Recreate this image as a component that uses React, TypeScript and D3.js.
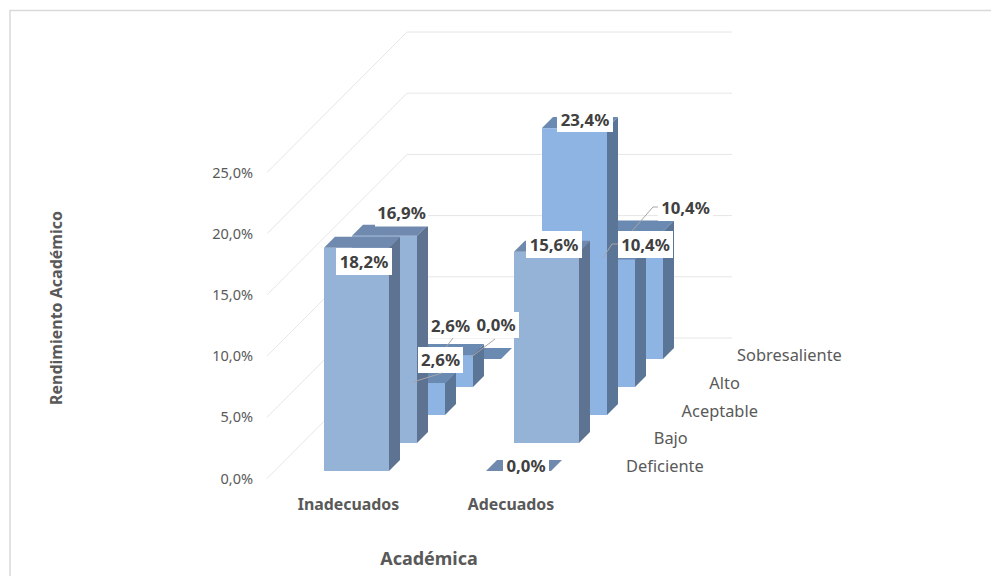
import React from "react";
import * as d3 from "d3";

const groups = ["Inadecuados", "Adecuados"];
const seriesNames = ["Deficiente", "Bajo", "Aceptable", "Alto", "Sobresaliente"];
const inadecuados = [18.2, 16.9, 2.6, 2.6, 0.0];
const adecuados = [0.0, 15.6, 23.4, 10.4, 10.4];
const valueTicks = [0, 5, 10, 15, 20, 25];

const frontFill = ["#95B3D7", "#95B3D7", "#8DB4E2", "#8DB4E2", "#8DB4E2"];
const topFill = ["#7089AE", "#7089AE", "#6A8AB2", "#6A8AB2", "#6A8AB2"];
const sideFill = ["#5E7391", "#5E7391", "#5A7596", "#5A7596", "#5A7596"];

const fmt = (v: number) => v.toFixed(1).replace(".", ",") + "%";
const sans = "'Noto Sans', 'Open Sans', sans-serif";

// oblique projection: each series steps back up and to the right
const barH = d3.scaleLinear().domain([0, 25]).range([0, 306.5]);
const tickY = d3.scaleLinear().domain([0, 25]).range([478.5, 172.5]);
const groupX = d3.scaleOrdinal<string, number>().domain(groups).range([324, 486]);
const stepBack = d3.scaleLinear().domain([0, 4]).range([0, 112]);
const baseY = 471;
const barW = 65;
const depth = 11;
const wallRise = 140.5;

type Bar = { g: number; s: number; v: number };
const bars: Bar[] = [];
for (let s = seriesNames.length - 1; s >= 0; s--) {
  bars.push({ g: 0, s, v: inadecuados[s] });
  bars.push({ g: 1, s, v: adecuados[s] });
}

type Label = {
  group: string;
  series: string;
  value: number;
  box: [number, number, number, number];
  leader?: [number, number][];
};
const labels: Label[] = [
  { group: "Inadecuados", series: "Bajo", value: inadecuados[1], box: [375, 200, 53, 26.5] },
  { group: "Inadecuados", series: "Sobresaliente", value: inadecuados[4], box: [473, 312, 46, 26], leader: [[495, 339], [470, 358]] },
  { group: "Inadecuados", series: "Alto", value: inadecuados[3], box: [428, 313, 45, 25], leader: [[453, 338], [440, 355]] },
  { group: "Inadecuados", series: "Aceptable", value: inadecuados[2], box: [418, 347, 45, 26], leader: [[442, 373], [413, 382]] },
  { group: "Inadecuados", series: "Deficiente", value: inadecuados[0], box: [336, 248, 56, 27] },
  { group: "Adecuados", series: "Aceptable", value: adecuados[2], box: [557, 107, 56, 25] },
  { group: "Adecuados", series: "Sobresaliente", value: adecuados[4], box: [658, 195, 55, 26], leader: [[632, 231], [653, 207], [658, 207]] },
  { group: "Adecuados", series: "Alto", value: adecuados[3], box: [618, 231, 55, 27], leader: [[603, 258], [612, 244], [618, 244]] },
  { group: "Adecuados", series: "Bajo", value: adecuados[1], box: [526, 231, 56, 27] },
  { group: "Adecuados", series: "Deficiente", value: adecuados[0], box: [503, 453, 46, 26] },
];

export default function App() {
  const line = d3.line();
  const poly = (pts: [number, number][]) => pts.map((p) => p.join(",")).join(" ");
  return (
    <svg width={991} height={576} style={{ position: "absolute", left: 0, top: 0, background: "#fff" }} fontFamily={sans}>
      <path d="M10 576V10.5H991" fill="none" stroke="#D9D9D9" strokeWidth={1.5} />

      {valueTicks.map((t) => (
        <g key={t}>
          <path
            d={line([[267, tickY(t)], [407, tickY(t) - wallRise], [732, tickY(t) - wallRise]]) ?? ""}
            fill="none"
            stroke="#E6E6E6"
            strokeWidth={1}
          />
          <text x={253} y={tickY(t) + 5} textAnchor="end" fontSize={14.5} fill="#595959">
            {fmt(t)}
          </text>
        </g>
      ))}

      {bars.map(({ g, s, v }) => {
        const x0 = groupX(groups[g]) + stepBack(s);
        const x1 = x0 + barW;
        const y0 = baseY - stepBack(s);
        const y1 = y0 - barH(v);
        return (
          <g key={`${g}-${s}`}>
            {v > 0 && <rect x={x0} y={y1} width={barW} height={y0 - y1} fill={frontFill[s]} />}
            {v > 0 && <polygon points={poly([[x1, y0], [x1 + depth, y0 - depth], [x1 + depth, y1 - depth], [x1, y1]])} fill={sideFill[s]} />}
            <polygon points={poly([[x0, y1], [x0 + depth, y1 - depth], [x1 + depth, y1 - depth], [x1, y1]])} fill={topFill[s]} />
          </g>
        );
      })}

      {labels.map((l) => {
        const [x, y, w, h] = l.box;
        return (
          <g key={l.group + l.series}>
            <rect x={x} y={y} width={w} height={h} fill="#fff" />
            {l.leader && <path d={line(l.leader) ?? ""} fill="none" stroke="#A6A6A6" strokeWidth={1} />}
            <text x={x + w / 2} y={y + h / 2 + 6} textAnchor="middle" fontSize={16.8} fontWeight={700} fill="#404040">
              {fmt(l.value)}
            </text>
          </g>
        );
      })}

      {seriesNames.map((name, i) => (
        <text key={name} x={626 + stepBack(i) * 0.992} y={472 - stepBack(i) * 0.99} fontSize={16.4} fill="#595959">
          {name}
        </text>
      ))}

      {groups.map((g) => (
        <text key={g} x={groupX(g) + (g === "Inadecuados" ? 24.5 : 25)} y={510} textAnchor="middle" fontSize={15.9} fontWeight={700} fill="#595959">
          {g}
        </text>
      ))}

      <text x={429} y={565} textAnchor="middle" fontSize={18} fontWeight={700} fill="#595959">
        Académica
      </text>
      <text transform="translate(62,308) rotate(-90)" textAnchor="middle" fontSize={16} fontWeight={700} fill="#595959">
        Rendimiento Académico
      </text>
    </svg>
  );
}
